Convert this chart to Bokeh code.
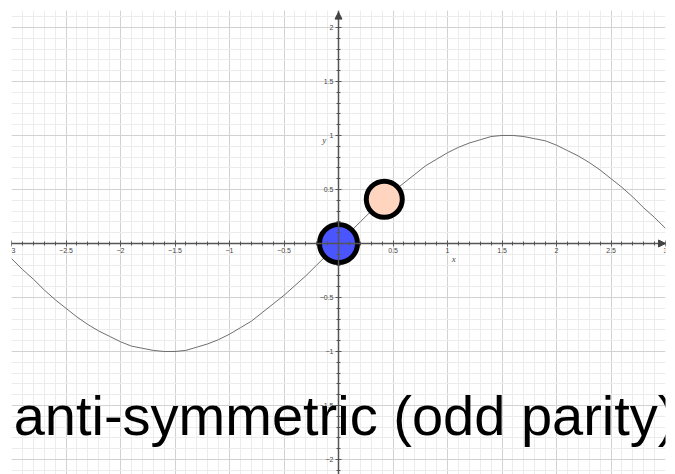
from bokeh.plotting import figure
from bokeh.models import (Range1d, SingleIntervalTicker, LinearAxis, Label, Arrow,
                          NormalHead, Grid)
from bokeh.embed import file_html
from bokeh.resources import INLINE

# ---- data ----
curve_x = [-3.0, -2.9, -2.8, -2.7, -2.6, -2.5, -2.4, -2.3, -2.2, -2.1, -2.0,
           -1.9, -1.8, -1.7, -1.6, -1.5, -1.4, -1.3, -1.2, -1.1, -1.0,
           -0.9, -0.8, -0.7, -0.6, -0.5, -0.4, -0.3, -0.2, -0.1, 0.0,
           0.1, 0.2, 0.3, 0.4, 0.5, 0.6, 0.7, 0.8, 0.9, 1.0,
           1.1, 1.2, 1.3, 1.4, 1.5, 1.6, 1.7, 1.8, 1.9, 2.0,
           2.1, 2.2, 2.3, 2.4, 2.5, 2.6, 2.7, 2.8, 2.9, 3.0]
curve_y = [-0.14, -0.24, -0.33, -0.43, -0.52, -0.60, -0.68, -0.75, -0.81, -0.86, -0.91,
           -0.95, -0.97, -0.99, -1.00, -1.00, -0.99, -0.96, -0.93, -0.89, -0.84,
           -0.78, -0.72, -0.64, -0.56, -0.48, -0.39, -0.30, -0.20, -0.10, 0.00,
           0.10, 0.20, 0.30, 0.39, 0.48, 0.56, 0.64, 0.72, 0.78, 0.84,
           0.89, 0.93, 0.96, 0.99, 1.00, 1.00, 0.99, 0.97, 0.95, 0.91,
           0.86, 0.81, 0.75, 0.68, 0.60, 0.52, 0.43, 0.33, 0.24, 0.14]
origin_point_x = [0.0]
origin_point_y = [0.0]
moved_point_x = [0.42]
moved_point_y = [0.41]
caption_text = "anti-symmetric (odd parity)"
x_label_text = "x"
y_label_text = "y"

X_MIN, X_MAX = -3.0, 3.0
Y_MIN, Y_MAX = -2.139, 2.157

p = figure(width=675, height=474, x_range=Range1d(X_MIN, X_MAX), y_range=Range1d(Y_MIN, Y_MAX),
           output_backend="svg", toolbar_location=None,
           x_axis_location=None, y_axis_location=None,
           min_border_left=11, min_border_right=10, min_border_top=10, min_border_bottom=0)
p.outline_line_color = None
p.background_fill_color = "white"
p.border_fill_color = "white"
for g in list(p.center):
    if isinstance(g, Grid):
        p.center.remove(g)

for dim in (0, 1):
    g = Grid(dimension=dim, ticker=SingleIntervalTicker(interval=0.5, num_minor_ticks=5))
    g.grid_line_color = "#d2d2d2"
    g.grid_line_width = 1
    g.minor_grid_line_color = "#ececec"
    g.minor_grid_line_width = 1
    p.add_layout(g, "center")

def style_axis(ax):
    ax.fixed_location = 0
    ax.axis_line_color = "#555555"
    ax.axis_line_width = 1.5
    ax.major_tick_line_color = "#555555"
    ax.minor_tick_line_color = "#555555"
    ax.major_tick_in = 3
    ax.major_tick_out = 3
    ax.minor_tick_in = 2
    ax.minor_tick_out = 2
    ax.major_label_text_font = "Liberation Sans"
    ax.major_label_text_font_size = "7px"
    ax.major_label_text_color = "#444444"
    ax.major_label_standoff = 2

xax = LinearAxis(ticker=SingleIntervalTicker(interval=0.5, num_minor_ticks=5))
style_axis(xax)
xax.major_label_overrides = {0: ""}
p.add_layout(xax, "below")
yax = LinearAxis(ticker=SingleIntervalTicker(interval=0.5, num_minor_ticks=5))
style_axis(yax)
yax.major_label_overrides = {0: ""}
p.add_layout(yax, "left")

# arrow heads of the axes
p.add_layout(Arrow(end=NormalHead(size=7, fill_color="#444444", line_color="#444444"),
                   x_start=X_MAX - 0.05, y_start=0, x_end=X_MAX, y_end=0, line_color="#444444", line_width=1.5))
p.add_layout(Arrow(end=NormalHead(size=7, fill_color="#444444", line_color="#444444"),
                   x_start=0, y_start=Y_MAX - 0.05, x_end=0, y_end=Y_MAX - 0.015, line_color="#444444", line_width=1.5))

# sine curve
p.line(curve_x, curve_y, line_color="#6e6e6e", line_width=1)

# points
p.scatter(origin_point_x, origin_point_y, size=38, fill_color="#4b55ff", line_color="black", line_width=5)
p.scatter(moved_point_x, moved_point_y, size=36, fill_color="#ffd5c0", line_color="black", line_width=5)

# axis names
p.add_layout(Label(x=1.04, y=-0.10, text=x_label_text, text_font="Liberation Serif",
                   text_font_style="italic", text_font_size="9px", text_color="#444444",
                   text_baseline="top"))
p.add_layout(Label(x=-0.15, y=0.96, text=y_label_text, text_font="Liberation Serif",
                   text_font_style="italic", text_font_size="9px", text_color="#444444",
                   text_baseline="middle"))

# caption
p.add_layout(Label(x=-2.98, y=-1.597, text=caption_text, text_font="Liberation Sans",
                   text_font_size="56px", text_color="black", text_baseline="alphabetic"))

open("out.html", "w").write(file_html(p, INLINE))
